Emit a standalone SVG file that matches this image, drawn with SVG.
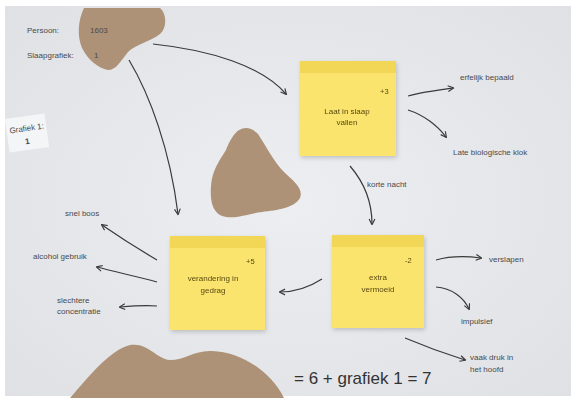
<svg xmlns="http://www.w3.org/2000/svg" width="574" height="398" viewBox="0 0 574 398">
<defs>
<style>
.t{font-family:"Liberation Sans",Arial,sans-serif;font-size:8px;fill:#4a4a4a}
.s{font-family:"Liberation Sans",Arial,sans-serif;font-size:8px;fill:#5a4a10;text-anchor:middle}
.n{font-family:"Liberation Sans",Arial,sans-serif;font-size:7.5px;fill:#5a4a10}
.c{fill:none;stroke:#3a3a3a;stroke-width:1.2;marker-end:url(#a)}
.blob{fill:#ad9278}
.note{fill:#fae46e}
.band{fill:#f2d655}
</style>
<marker id="a" viewBox="0 0 10 10" refX="8" refY="5" markerWidth="6" markerHeight="6" orient="auto">
<path d="M1,1 L9,5 L1,9" fill="none" stroke="#3a3a3a" stroke-width="1.6"/>
</marker>
<filter id="sh" x="-10%" y="-10%" width="130%" height="130%">
<feDropShadow dx="1" dy="2" stdDeviation="2" flood-color="#000" flood-opacity="0.18"/>
</filter>
<radialGradient id="pg" cx="0.5" cy="0.5" r="0.7">
<stop offset="0" stop-color="#eceef1"/>
<stop offset="1" stop-color="#dfe1e5"/>
</radialGradient>
</defs>
<rect width="574" height="398" fill="#ffffff"/>
<rect x="5" y="6" width="566" height="390" fill="url(#pg)"/>

<g id="blobs">
<path class="blob" d="M84,8 L160,8 C167,14 167,28 160,34 C150,42 136,44 128,52 C120,62 116,70 108,70 C98,68 88,60 82,48 C77,36 78,20 84,8 Z"/>
<path class="blob" d="M246,128 C236,128 230,140 226,150 C220,160 212,170 211,186 C210,200 212,212 222,216 C234,220 246,214 262,212 C278,210 294,208 300,198 C304,188 292,180 284,172 C274,162 266,146 258,134 C254,130 250,128 246,128 Z"/>
<path class="blob" d="M70,398 C90,375 110,350 130,345 C148,342 155,358 170,360 C185,360 195,350 212,351 C240,352 270,370 284,398 Z"/>
</g>

<g id="person">
<text class="t" x="27" y="33">Persoon:</text>
<text class="t" x="90" y="33">1603</text>
<text class="t" x="27" y="58">Slaapgrafiek:</text>
<text class="t" x="94" y="58">1</text>
</g>

<g id="grafiek-card" transform="rotate(-8 27 133)">
<rect x="7" y="116" width="40" height="34" fill="#f4f5f6"/>
<text class="t" x="10" y="131" font-size="6">Grafiek 1:</text>
<text class="t" x="24" y="144" font-size="10" font-weight="bold">1</text>
</g>

<g id="connectors">
<path class="c" d="M153,44 C210,50 262,66 286,94"/>
<path class="c" d="M129,60 C150,95 170,150 178,214"/>
<path class="c" d="M350,166 C362,180 372,198 372,224"/>
<path class="c" d="M408,96 C422,92 438,90 453,88"/>
<path class="c" d="M408,110 C424,115 438,126 446,137"/>
<path class="c" d="M436,260 C450,256 466,256 481,258"/>
<path class="c" d="M436,287 C452,288 464,298 469,309"/>
<path class="c" d="M405,338 C424,346 446,354 465,360"/>
<path class="c" d="M322,279 C308,288 296,292 280,292"/>
<path class="c" d="M157,260 C140,250 118,236 102,225"/>
<path class="c" d="M157,282 C135,276 115,272 97,267"/>
<path class="c" d="M157,306 C145,305 132,306 120,307"/>
</g>

<g id="note-laat" filter="url(#sh)">
<rect class="note" x="300" y="61" width="96" height="95"/>
<rect class="band" x="300" y="61" width="96" height="12"/>
<text class="n" x="380" y="94">+3</text>
<text class="s" x="347" y="114">Laat in slaap</text>
<text class="s" x="347" y="125">vallen</text>
</g>

<g id="note-extra" filter="url(#sh)">
<rect class="note" x="332" y="235" width="92" height="93"/>
<rect class="band" x="332" y="235" width="92" height="12"/>
<text class="n" x="405" y="263">-2</text>
<text class="s" x="378" y="280">extra</text>
<text class="s" x="378" y="292">vermoeid</text>
</g>

<g id="note-gedrag" filter="url(#sh)">
<rect class="note" x="170" y="236" width="95" height="94"/>
<rect class="band" x="170" y="236" width="95" height="12"/>
<text class="n" x="246" y="264">+5</text>
<text class="s" x="213" y="281">verandering in</text>
<text class="s" x="213" y="293">gedrag</text>
</g>

<g id="labels">
<text class="t" x="367" y="187">korte nacht</text>
<text class="t" x="460" y="80">erfelijk bepaald</text>
<text class="t" x="453" y="155">Late biologische klok</text>
<text class="t" x="489" y="262">verslapen</text>
<text class="t" x="461" y="324">impulsief</text>
<text class="t" x="470" y="360">vaak druk in</text>
<text class="t" x="470" y="372">het hoofd</text>
<text class="t" x="65" y="216">snel boos</text>
<text class="t" x="33" y="259">alcohol gebruik</text>
<text class="t" x="57" y="303">slechtere</text>
<text class="t" x="57" y="314">concentratie</text>
</g>

<g id="formula">
<text x="294" y="384" style="font-family:'Liberation Sans',Arial,sans-serif;font-size:17px;fill:#333">= 6 + grafiek 1 = 7</text>
</g>
</svg>
